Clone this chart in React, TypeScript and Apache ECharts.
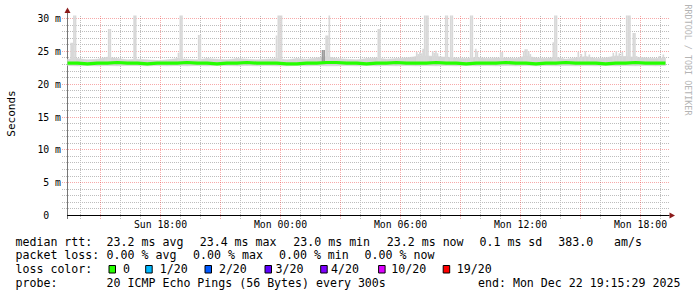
import React, { useEffect, useRef } from 'react';
import * as echarts from 'echarts';

// Time axis: hours relative to Mon 00:00
const X_MIN = -10.65;
const X_MAX = 19.35;
const Y_MAX = 30.457; // ms
const DATA_START = -10.65;
const DATA_END = 19.25;
const STEP_5MIN = 5 / 60;
const SPIKE_BASE = 23.4;

const X_TICKS = [-6, 0, 6, 12, 18];
const X_TICK_LABELS = ['Sun 18:00', 'Mon 00:00', 'Mon 06:00', 'Mon 12:00', 'Mon 18:00'];
const Y_TICKS = [0, 5, 10, 15, 20, 25, 30];
const Y_TICK_LABELS = ['0  ', '5 m', '10 m', '15 m', '20 m', '25 m', '30 m'];
const X_GRID_HOURS = [-10, -9, -8, -7, -6, -5, -4, -3, -2, -1, 0, 1, 2, 3, 4, 5, 6, 7, 8, 9, 10, 11, 12, 13, 14, 15, 16, 17, 18, 19];
const Y_GRID_MS = [1, 2, 3, 4, 5, 6, 7, 8, 9, 10, 11, 12, 13, 14, 15, 16, 17, 18, 19, 20, 21, 22, 23, 24, 25, 26, 27, 28, 29, 30];

// median rtt (ms), sampled every ~30 min across the graph
const MEDIAN = [
  23.2, 23.2, 23.1, 23.2, 23.2, 23.3, 23.2, 23.2, 23.1, 23.2,
  23.2, 23.2, 23.3, 23.2, 23.2, 23.1, 23.2, 23.2, 23.3, 23.2,
  23.2, 23.2, 23.1, 23.1, 23.2, 23.2, 23.3, 23.3, 23.2, 23.2,
  23.1, 23.2, 23.2, 23.3, 23.2, 23.2, 23.2, 23.3, 23.2, 23.2,
  23.1, 23.2, 23.2, 23.2, 23.3, 23.2, 23.2, 23.1, 23.2, 23.2,
  23.3, 23.2, 23.2, 23.2, 23.1, 23.2, 23.2, 23.3, 23.2, 23.2, 23.2,
];
const SMOKE_LOW = [
  22.85, 22.8, 22.85, 22.8, 22.85, 22.8, 22.85, 22.85, 22.8, 22.85,
  22.8, 22.85, 22.8, 22.85, 22.8, 22.85, 22.85, 22.8, 22.85, 22.8,
  22.85, 22.8, 22.8, 22.85, 22.8, 22.85, 22.8, 22.8, 22.85, 22.8,
  22.85, 22.8, 22.85, 22.8, 22.85, 22.8, 22.85, 22.8, 22.85, 22.8,
  22.85, 22.8, 22.85, 22.8, 22.85, 22.8, 22.85, 22.8, 22.85, 22.8,
  22.85, 22.8, 22.85, 22.8, 22.85, 22.8, 22.85, 22.8, 22.85, 22.8, 22.85,
];
const SMOKE_HIGH = [
  23.8, 23.9, 23.7, 23.8, 24.1, 23.9, 23.7, 23.8, 23.7, 23.6,
  23.7, 23.9, 23.8, 23.7, 23.9, 23.8, 23.7, 23.9, 23.8, 23.7,
  23.8, 23.9, 23.7, 23.9, 23.8, 24.0, 24.2, 23.9, 23.8, 23.7,
  23.9, 24.0, 23.8, 23.9, 24.0, 24.2, 24.3, 24.2, 24.1, 24.0,
  23.9, 24.1, 23.9, 24.0, 24.0, 23.9, 24.3, 24.0, 23.9, 24.1,
  23.8, 24.0, 24.2, 23.9, 24.0, 24.3, 24.2, 24.1, 24.0, 23.9, 24.0,
];
// [hour, top ms] of single 5-minute smoke columns
const SPIKES: [number, number][] = [
  [-10.51, 26.3], [-10.43, 26.3], [-10.37, 30.6], [-10.29, 30.6],
  [-8.79, 24.0], [-8.71, 24.0], [-8.63, 28.4], [-8.55, 28.4],
  [-7.36, 30.6], [-7.28, 30.6],
  [-5.14, 24.8], [-5.05, 30.6], [-4.97, 30.6],
  [-4.13, 27.5], [-4.05, 27.5],
  [-0.24, 27.4], [-0.15, 30.6], [-0.07, 30.6], [0.01, 30.6],
  [2.24, 27.4], [2.32, 27.4], [2.4, 30.6],
  [4.85, 28.4], [4.93, 28.4],
  [6.77, 24.9], [6.85, 24.6], [6.93, 24.9], [7.02, 24.7], [7.09, 25.4],
  [7.17, 30.6], [7.25, 30.6], [7.33, 30.6],
  [7.57, 25.0], [7.65, 24.8], [7.73, 25.1], [7.81, 24.7],
  [8.22, 30.6], [8.3, 30.6], [8.47, 30.6], [8.55, 30.6],
  [9.47, 30.6], [9.55, 30.6], [9.72, 25.4], [9.8, 25.0],
  [10.97, 24.9], [11.05, 24.9],
  [12.12, 25.0], [12.2, 25.3], [12.28, 25.3], [12.37, 25.0], [12.45, 24.6],
  [13.6, 26.4], [13.68, 30.6], [13.76, 30.6],
  [14.85, 24.9], [15.0, 24.6], [15.2, 25.0], [15.4, 24.5],
  [16.6, 24.8], [16.75, 25.0], [16.9, 24.7], [17.05, 24.9],
  [17.27, 30.6], [17.35, 30.6], [17.43, 30.6],
  [17.6, 27.8], [17.68, 27.8], [17.76, 24.3],
  [18.9, 24.3], [19.1, 24.5],
];
const DARK_SPIKES: [number, number][] = [[2.06, 25.2], [2.14, 25.2]];

// legend texts
const RTT_LABEL = 'median rtt:';
const RTT_STATS = ['23.2 ms avg', '23.4 ms max', '23.0 ms min', '23.2 ms now', '0.1 ms sd', '383.0', 'am/s'];
const LOSS_LABEL = 'packet loss:';
const LOSS_STATS = ['0.00 % avg', '0.00 % max', '0.00 % min', '0.00 % now'];
const COLOR_LABEL = 'loss color:';
const LOSS_LEVELS = ['0', '1/20', '2/20', '3/20', '4/20', '10/20', '19/20'];
const LOSS_COLORS = ['#26ff00', '#00b8ff', '#0059ff', '#5e00ff', '#7e00ff', '#dd00ff', '#ff0000'];
const PROBE_LABEL = 'probe:';
const PROBE_TEXT = '20 ICMP Echo Pings (56 Bytes) every 300s';
const END_TEXT = 'end: Mon Dec 22 19:15:29 2025';
const Y_NAME = 'Seconds';
const WATERMARK = 'RRDTOOL / TOBI OETIKER';

const MONO = '"DejaVu Sans Mono", monospace';

export default function App() {
  const ref = useRef<HTMLDivElement>(null);
  useEffect(() => {
    if (!ref.current) return;
    const chart = echarts.init(ref.current, undefined, { renderer: 'svg' });
    const n = MEDIAN.length;
    const step = (DATA_END - DATA_START) / (n - 1);
    const times = MEDIAN.map((_, i) => DATA_START + i * step);

    const legendFont = 11.6;
    const rowY = [241.7, 255, 269, 283.3];
    const rttX = [106.6, 199.7, 293.3, 386.8, 479.5, 558.3, 614];
    const lossX = [106.6, 193.1, 279, 364.6];
    const boxX = [109, 145.7, 205, 265, 320.7, 378.6, 443.2];
    const levelX = [123.1, 159.7, 218.9, 275.5, 331.1, 391.3, 456.8];

    const txt = (text: string, x: number, y: number) => ({
      type: 'text',
      x,
      y,
      silent: true,
      style: { text, fontSize: legendFont, fontFamily: MONO, fill: '#000', align: 'left', verticalAlign: 'middle' },
    });

    const graphics: any[] = [];
    graphics.push(txt(RTT_LABEL, 15.5, rowY[0]));
    RTT_STATS.forEach((s, i) => graphics.push(txt(s, rttX[i], rowY[0])));
    graphics.push(txt(LOSS_LABEL, 15.5, rowY[1]));
    LOSS_STATS.forEach((s, i) => graphics.push(txt(s, lossX[i], rowY[1])));
    graphics.push(txt(COLOR_LABEL, 15.5, rowY[2]));
    LOSS_LEVELS.forEach((s, i) => {
      graphics.push({
        type: 'rect',
        silent: true,
        shape: { x: boxX[i], y: 265.5, width: 6.5, height: 7.5 },
        style: { fill: LOSS_COLORS[i], stroke: '#000', lineWidth: 1 },
      });
      graphics.push(txt(s, levelX[i], rowY[2]));
    });
    graphics.push(txt(PROBE_LABEL, 15.5, rowY[3]));
    graphics.push(txt(PROBE_TEXT, 106.6, rowY[3]));
    graphics.push(txt(END_TEXT, 478, rowY[3]));
    graphics.push({
      type: 'text',
      x: 11,
      y: 113.5,
      rotation: Math.PI / 2,
      silent: true,
      style: { text: Y_NAME, fontSize: 11, fontFamily: MONO, fill: '#000', align: 'center', verticalAlign: 'middle' },
    });
    graphics.push({
      type: 'text',
      x: 688,
      y: 60,
      rotation: -Math.PI / 2,
      silent: true,
      style: { text: WATERMARK, fontSize: 8.4, fontFamily: MONO, fill: '#b4b4b4', align: 'center', verticalAlign: 'middle' },
    });
    // axis extensions and arrows
    graphics.push({ type: 'line', silent: true, shape: { x1: 667.5, y1: 215.5, x2: 669.5, y2: 215.5 }, style: { stroke: '#000', lineWidth: 1 } });
    graphics.push({ type: 'line', silent: true, shape: { x1: 67.5, y1: 15.5, x2: 67.5, y2: 12 }, style: { stroke: '#777', lineWidth: 1 } });
    graphics.push({ type: 'line', silent: true, shape: { x1: 67.5, y1: 215.5, x2: 67.5, y2: 219 }, style: { stroke: '#777', lineWidth: 1 } });
    graphics.push({ type: 'polygon', silent: true, shape: { points: [[67.5, 7.5], [64.5, 13], [70.5, 13]] }, style: { fill: '#8b1a1a' } });
    graphics.push({ type: 'polygon', silent: true, shape: { points: [[675, 215.5], [669.5, 212.5], [669.5, 218.5]] }, style: { fill: '#8b1a1a' } });

    const lookup = (vals: number[], labels: string[]) => (v: number) => {
      const i = vals.findIndex((t) => Math.abs(t - v) < 1e-6);
      return i >= 0 ? labels[i] : '';
    };

    const MINOR = '#bdbdbd';
    const MAJOR = 'rgba(235,50,50,0.42)';
    // grid items: [kind (0 = vertical/hour, 1 = horizontal/ms), value]
    const gridItems: number[][] = [
      ...X_GRID_HOURS.map((h) => [0, h]),
      ...Y_GRID_MS.map((v) => [1, v]),
    ];
    const gridMinor = gridItems.filter(([k, v]) => (k === 0 ? v % 3 !== 0 : v % 5 !== 0));
    const gridMajor = gridItems.filter(([k, v]) => (k === 0 ? v % 3 === 0 : v % 5 === 0));
    const gridRender = (color: string, items: number[][]) => (params: any, api: any) => {
      const [k, v] = items[params.dataIndex];
      let shape: any;
      if (k === 0) {
        const a = api.coord([v, 0]);
        const b = api.coord([v, Y_MAX]);
        const x = Math.floor(a[0]) + 0.5;
        shape = { x1: x, y1: Math.round(a[1]) + 3, x2: x, y2: Math.round(b[1]) };
      } else {
        const a = api.coord([X_MIN, v]);
        const b = api.coord([X_MAX, v]);
        const y = Math.floor(a[1]) + 0.5;
        shape = { x1: Math.round(a[0]) - 6, y1: y, x2: Math.round(b[0]) + 2, y2: y };
      }
      return {
        type: 'line',
        shape,
        style: { stroke: color, lineWidth: 1, lineDash: [1, 1] },
      };
    };

    chart.setOption({
      animation: false,
      backgroundColor: '#ffffff',
      grid: { left: 67.5, top: 15.5, width: 600, height: 200, containLabel: false },
      xAxis: {
        type: 'value',
        min: X_MIN,
        max: X_MAX,
        axisLine: { show: true, onZero: false, lineStyle: { color: '#000', width: 1 } },
        axisTick: { show: false },
        splitLine: { show: false },
        axisLabel: {
          customValues: X_TICKS,
          formatter: lookup(X_TICKS, X_TICK_LABELS),
          margin: 4,
          color: '#000',
          fontSize: 9.8,
          fontFamily: MONO,
        },
      },
      yAxis: {
        type: 'value',
        min: 0,
        max: Y_MAX,
        axisLine: { show: true, onZero: false, lineStyle: { color: '#777', width: 1 } },
        axisTick: { show: false },
        splitLine: { show: false },
        axisLabel: {
          customValues: Y_TICKS,
          formatter: lookup(Y_TICKS, Y_TICK_LABELS),
          margin: 6.5,
          color: '#000',
          fontSize: 9.8,
          fontFamily: MONO,
        },
      },
      graphic: graphics,
      series: [
        {
          type: 'custom',
          name: 'minorGrid',
          silent: true,
          clip: false,
          z: 1,
          data: gridMinor.map((d) => d),
          encode: { x: 1 },
          renderItem: gridRender(MINOR, gridMinor),
        },
        {
          type: 'custom',
          name: 'majorGrid',
          silent: true,
          clip: false,
          z: 1,
          data: gridMajor.map((d) => d),
          encode: { x: 1 },
          renderItem: gridRender(MAJOR, gridMajor),
        },
        {
          type: 'custom',
          name: 'smokeBand',
          silent: true,
          clip: true,
          z: 3,
          data: times.map((t, i) => [t, SMOKE_LOW[i], SMOKE_HIGH[i]]),
          encode: { x: 0, y: [1, 2] },
          renderItem: (params: any, api: any) => {
            const i = params.dataIndex;
            if (i >= times.length - 1) return { type: 'group', children: [] };
            const p1 = api.coord([times[i], SMOKE_LOW[i]]);
            const p2 = api.coord([times[i + 1], SMOKE_LOW[i + 1]]);
            const p3 = api.coord([times[i + 1], SMOKE_HIGH[i + 1]]);
            const p4 = api.coord([times[i], SMOKE_HIGH[i]]);
            return {
              type: 'polygon',
              shape: { points: [p1, p2, p3, p4] },
              style: { fill: '#d4d4d4', stroke: '#d4d4d4', lineWidth: 0.6 },
            };
          },
        },
        {
          type: 'custom',
          name: 'smokeSpikes',
          silent: true,
          clip: true,
          z: 3,
          data: SPIKES.map(([t, v]) => [t, v]),
          encode: { x: 0, y: 1 },
          renderItem: (params: any, api: any) => {
            const t = api.value(0);
            const v = api.value(1);
            const a = api.coord([t, SPIKE_BASE]);
            const b = api.coord([t + STEP_5MIN, v]);
            return {
              type: 'rect',
              shape: { x: a[0], y: b[1], width: b[0] - a[0], height: a[1] - b[1] },
              style: { fill: '#d8d8d8' },
            };
          },
        },
        {
          type: 'custom',
          name: 'smokeDark',
          silent: true,
          clip: true,
          z: 3,
          data: DARK_SPIKES.map(([t, v]) => [t, v]),
          encode: { x: 0, y: 1 },
          renderItem: (params: any, api: any) => {
            const t = api.value(0);
            const v = api.value(1);
            const a = api.coord([t, SPIKE_BASE]);
            const b = api.coord([t + STEP_5MIN, v]);
            return {
              type: 'rect',
              shape: { x: a[0], y: b[1], width: b[0] - a[0], height: a[1] - b[1] },
              style: { fill: '#9a9a9a' },
            };
          },
        },
        {
          type: 'line',
          name: 'median',
          silent: true,
          z: 4,
          symbol: 'none',
          data: times.map((t, i) => [t, MEDIAN[i]]),
          lineStyle: { color: '#26ff00', width: 3.2 },
        },
      ],
    });
    return () => chart.dispose();
  }, []);
  return <div ref={ref} style={{ position: 'fixed', left: 0, top: 0, width: 697, height: 297, background: '#fff' }} />;
}
